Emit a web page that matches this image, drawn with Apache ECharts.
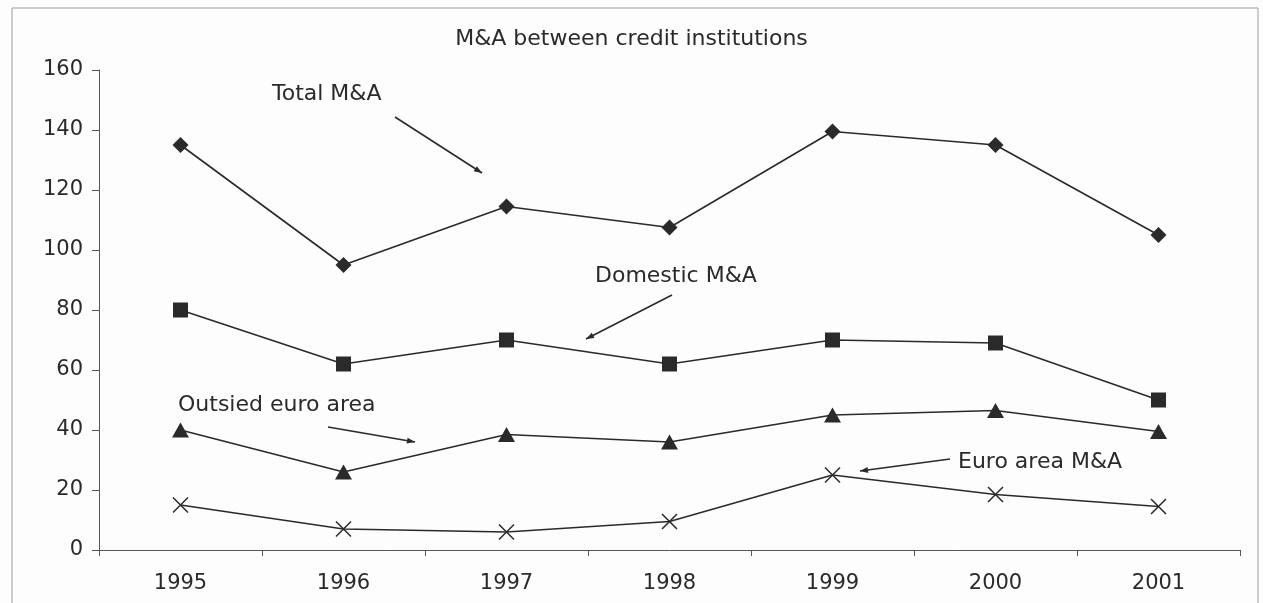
<!DOCTYPE html>
<html>
<head>
<meta charset="utf-8">
<script src="https://cdn.jsdelivr.net/npm/echarts@6/dist/echarts.min.js"></script>
<style>
  html, body { margin: 0; padding: 0; background: #fdfdfd; }
  #chart { width: 1263px; height: 603px; }
</style>
</head>
<body>
<div id="chart"></div>
<script>
const years = ['1995', '1996', '1997', '1998', '1999', '2000', '2001']
const totalMA = [135, 95, 114.5, 107.5, 139.5, 135, 105]
const domesticMA = [80, 62, 70, 62, 70, 69, 50]
const outsideEuro = [40, 26, 38.5, 36, 45, 46.5, 39.5]
const euroAreaMA = [15, 7, 6, 9.5, 25, 18.5, 14.5]
const yTicks = { min: 0, max: 160, step: 20 }

const ink = '#2a2a2a'
const font = 'DejaVu Sans, sans-serif'

// annotation labels with their pointer arrows (pixel layout)
const notes = [
  { text: 'Total M&A', x: 272, y: 94, from: [395, 117], to: [482, 173] },
  { text: 'Domestic M&A', x: 595, y: 276, from: [672, 295], to: [586, 339] },
  { text: 'Outsied euro area', x: 178, y: 405, from: [328, 427], to: [415, 442] },
  { text: 'Euro area M&A', x: 958, y: 462, from: [950, 459], to: [860, 471] },
]

function arrowHead(from, to, len = 8, half = 3) {
  const dx = to[0] - from[0]
  const dy = to[1] - from[1]
  const d = Math.hypot(dx, dy)
  const ux = dx / d
  const uy = dy / d
  const bx = to[0] - ux * len
  const by = to[1] - uy * len
  return [to, [bx - uy * half, by + ux * half], [bx + uy * half, by - ux * half]]
}

const graphics = [{
  type: 'rect',
  shape: { x: 12, y: 8, width: 1246, height: 610 },
  style: { fill: 'none', stroke: '#9a9a9a', lineWidth: 1 },
  silent: true,
}]
notes.forEach(n => {
  graphics.push({
    type: 'text',
    style: { text: n.text, x: n.x, y: n.y, font: `22px ${font}`, fill: ink, verticalAlign: 'middle' },
  })
  graphics.push({
    type: 'line',
    shape: { x1: n.from[0], y1: n.from[1], x2: n.to[0], y2: n.to[1] },
    style: { stroke: ink, lineWidth: 1.6 },
  })
  graphics.push({
    type: 'polygon',
    shape: { points: arrowHead(n.from, n.to) },
    style: { fill: ink },
  })
})

function lineSeries(name, data, symbol, symbolSize, hollow) {
  return {
    name,
    type: 'line',
    data,
    symbol,
    symbolSize,
    showAllSymbol: true,
    lineStyle: { color: ink, width: 1.6 },
    itemStyle: hollow
      ? { color: 'none', borderColor: ink, borderWidth: 1.5 }
      : { color: ink, borderWidth: 0 },
    emphasis: { disabled: true },
    z: hollow ? 2 : 3,
  }
}

const chart = echarts.init(document.getElementById('chart'), null, { renderer: 'canvas' })
chart.setOption({
  animation: false,
  backgroundColor: '#fdfdfd',
  title: {
    text: 'M&A between credit institutions',
    left: 'center',
    top: 28,
    padding: 0,
    textStyle: { color: ink, fontFamily: font, fontSize: 22, fontWeight: 'normal' },
  },
  grid: { left: 99, right: 23, top: 70, bottom: 53 },
  xAxis: {
    type: 'category',
    data: years,
    boundaryGap: true,
    axisLine: { lineStyle: { color: '#555', width: 1 } },
    axisTick: { show: true, length: 6, lineStyle: { color: '#555' } },
    axisLabel: { color: ink, fontFamily: font, fontSize: 21, margin: 23 },
  },
  yAxis: {
    type: 'value',
    min: yTicks.min,
    max: yTicks.max,
    interval: yTicks.step,
    axisLine: { show: true, lineStyle: { color: '#555', width: 1 } },
    axisTick: { show: true, length: 7, lineStyle: { color: '#555' } },
    axisLabel: { color: ink, fontFamily: font, fontSize: 21, margin: 16 },
    splitLine: { show: false },
  },
  series: [
    lineSeries('Total M&A', totalMA, 'diamond', 16, false),
    lineSeries('Domestic M&A', domesticMA, 'rect', 15, false),
    lineSeries('Outsied euro area', outsideEuro, 'triangle', [17, 15], false),
    lineSeries('Euro area M&A', euroAreaMA, 'path://M0,0L10,10M10,0L0,10', 15, true),
  ],
  graphic: graphics,
})
</script>
</body>
</html>
